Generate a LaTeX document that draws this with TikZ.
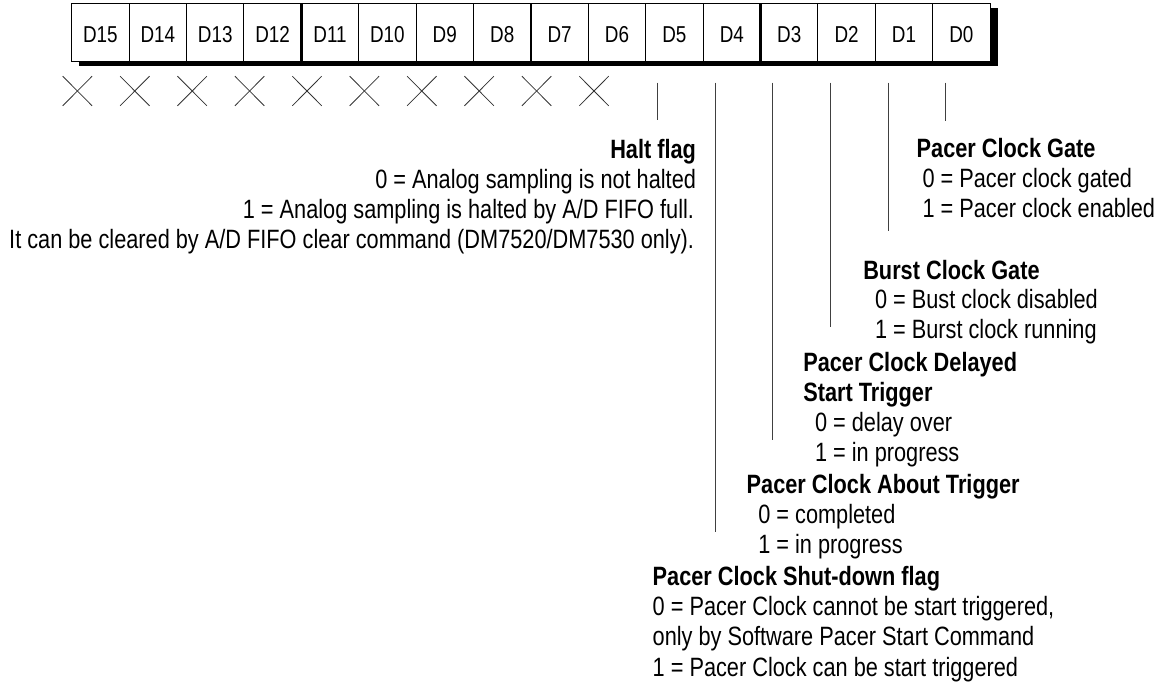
\documentclass[tikz,border=0pt]{standalone}
\usepackage{fontspec}
\setmainfont{Liberation Sans}[FakeStretch=0.82]
\begin{document}
\begin{tikzpicture}[x=1pt,y=-1pt,
  cell/.style={draw=black, fill=white, line width=0.9pt, minimum width=57.4pt, minimum height=57.7pt,
    inner sep=0pt, outer sep=0pt, anchor=north west, text height=20.3pt, text depth=0pt,
    font=\fontsize{23}{27}\selectfont},
  sep/.style={line width=2.4pt},
  xmark/.style={line width=0.8pt, black!80},
  wire/.style={line width=0.9pt, black!75},
  txt/.style={inner sep=0pt, outer sep=0pt, anchor=base west, font=\fontsize{26.5}{30}\selectfont},
  txtr/.style={txt, anchor=base east},
  head/.style={txt, font=\fontsize{26.5}{30}\selectfont\bfseries},
  headr/.style={head, anchor=base east}]
\useasboundingbox (0,0) rectangle (1168,686);
% shadow
\fill[black] (79,8.3) rectangle (998,66);
% register cells
\foreach \i in {0,...,15}{
  \pgfmathtruncatemacro\n{15-\i}
  \pgfmathsetmacro\xx{71.7+57.4*\i}
  \node[cell] (c\n) at (\xx,3.3) {D\n};
}
\draw[sep] (c12.north east) -- (c12.south east);
\draw[sep] (c8.north east) -- (c8.south east);
\draw[sep] (c4.north east) -- (c4.south east);
% crosses for unused bits
\foreach \n in {15,...,6}{
  \pgfmathsetmacro\cx{77.4+57.4*(15-\n)}
  \draw[xmark] (\cx-14.7,76.2) -- (\cx+14.7,105.8);
  \draw[xmark] (\cx-14.7,105.8) -- (\cx+14.7,76.2);
}
% bit lines
\coordinate (t5) at (657.9,82.5); \coordinate (b5) at (657.9,119.5);
\coordinate (t4) at (715.3,82.5); \coordinate (b4) at (715.3,532);
\coordinate (t3) at (772.9,82.5); \coordinate (b3) at (772.9,440);
\coordinate (t2) at (830.5,82.5); \coordinate (b2) at (830.5,327);
\coordinate (t1) at (888.1,82.5); \coordinate (b1) at (888.1,231);
\coordinate (t0) at (945.7,82.5); \coordinate (b0) at (945.7,120.5);
\foreach \n in {0,...,5}{ \draw[wire] (t\n) -- (b\n); }
% Halt flag
\node[headr] (h0) at (696,158) {Halt flag};
\node[txtr] (h1) at (696,188) {0 = Analog sampling is not halted};
\node[txtr] (h2) at (694,218) {1 = Analog sampling is halted by A/D FIFO full.};
\node[txtr] (h3) at (694,248) {It can be cleared by A/D FIFO clear command (DM7520/DM7530 only).};
% Pacer Clock Gate
\node[head] (g0) at (916.7,157) {Pacer Clock Gate};
\node[txt] (g1) at (922.5,187) {0 = Pacer clock gated};
\node[txt] (g2) at (922.5,217) {1 = Pacer clock enabled};
% Burst Clock Gate
\node[head] (u0) at (863.3,279) {Burst Clock Gate};
\node[txt] (u1) at (875,308) {0 = Bust clock disabled};
\node[txt] (u2) at (875,338) {1 = Burst clock running};
% Pacer Clock Delayed Start Trigger
\node[head] (d0) at (803.3,371) {Pacer Clock Delayed};
\node[head] (d1) at (803.3,401) {Start Trigger};
\node[txt] (d2) at (815,431) {0 = delay over};
\node[txt] (d3) at (815,461) {1 = in progress};
% Pacer Clock About Trigger
\node[head] (a0) at (746.7,493) {Pacer Clock About Trigger};
\node[txt] (a1) at (758.3,523) {0 = completed};
\node[txt] (a2) at (758.3,553) {1 = in progress};
% Pacer Clock Shut-down flag
\node[head] (s0) at (652.7,585) {Pacer Clock Shut-down flag};
\node[txt] (s1) at (652.7,615) {0 = Pacer Clock cannot be start triggered,};
\node[txt] (s2) at (652.7,645) {only by Software Pacer Start Command};
\node[txt] (s3) at (652.7,676) {1 = Pacer Clock can be start triggered};
\end{tikzpicture}
\end{document}
